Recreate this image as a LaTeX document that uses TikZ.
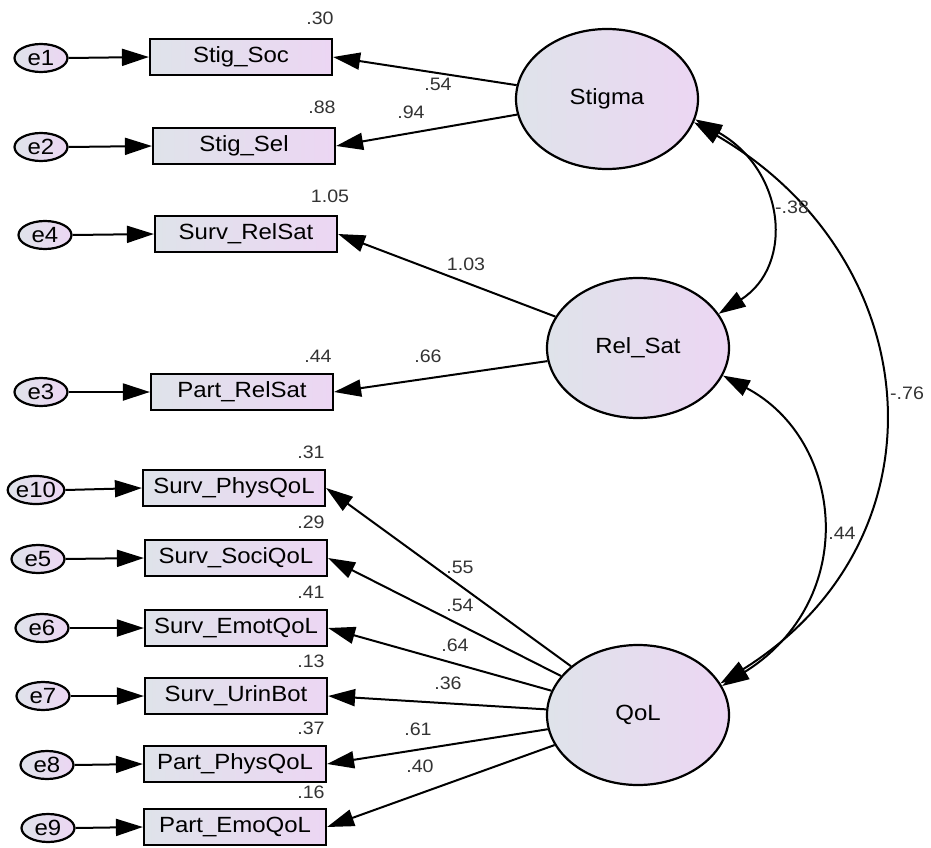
\documentclass[tikz,border=0pt]{standalone}
\usepackage{fontspec}
\setmainfont{Liberation Sans}[FakeStretch=1.09]
\usetikzlibrary{arrows.meta,shapes.geometric}
\definecolor{shadeL}{HTML}{DFE3EA}
\definecolor{shadeR}{HTML}{ECD6F3}
\definecolor{numgray}{HTML}{333333}
\newcommand{\fsz}[1]{\fontsize{#1}{#1}\selectfont}
\begin{document}
\begin{tikzpicture}[x=1pt,y=-1pt,
  obs/.style={draw, line width=2.2pt, minimum width=182pt, minimum height=36pt,
    inner sep=0pt, left color=shadeL, right color=shadeR, font=\fsz{22}},
  lat/.style={ellipse, draw, line width=2.2pt, minimum width=182pt, minimum height=140pt,
    inner sep=0pt, left color=shadeL, right color=shadeR, font=\fsz{22}},
  err/.style={ellipse, draw, line width=2.2pt, minimum width=53pt, minimum height=28pt,
    inner sep=0pt, left color=shadeL, right color=shadeR, font=\fsz{22}},
  num/.style={font=\fsz{18}, text=numgray, inner sep=0pt},
  path/.style={line width=2pt, -{Triangle[length=27pt,width=17pt]}},
  cov/.style={line width=2pt, {Triangle[length=27pt,width=17pt]}-{Triangle[length=27pt,width=17pt]}}
]
\useasboundingbox (0,0) rectangle (931,848);

% latent factors
\node[lat] (Stigma) at (607,99) {Stigma};
\node[lat] (RelSat) at (638,348) {Rel\_Sat};
\node[lat] (QoL) at (638,715) {QoL};

% indicators
\node[obs] (StigSoc) at (241,57) {Stig\_Soc};
\node[obs] (StigSel) at (244,146) {Stig\_Sel};
\node[obs] (SurvRelSat) at (246,234) {Surv\_RelSat};
\node[obs] (PartRelSat) at (242,392) {Part\_RelSat};
\node[obs] (SurvPhys) at (234,488) {Surv\_PhysQoL};
\node[obs] (SurvSoci) at (236,558) {Surv\_SociQoL};
\node[obs] (SurvEmot) at (236,628) {Surv\_EmotQoL};
\node[obs] (SurvUrin) at (236,696) {Surv\_UrinBot};
\node[obs] (PartPhys) at (235,764) {Part\_PhysQoL};
\node[obs] (PartEmo) at (235,827) {Part\_EmoQoL};

% error terms
\node[err] (e1) at (41,58) {e1};
\node[err] (e2) at (41,147) {e2};
\node[err] (e4) at (45,235) {e4};
\node[err] (e3) at (41,392) {e3};
\node[err] (e10) at (36,490) {e10};
\node[err] (e5) at (38,559) {e5};
\node[err] (e6) at (42,628) {e6};
\node[err] (e7) at (43,696) {e7};
\node[err] (e8) at (47,765) {e8};
\node[err] (e9) at (48,828) {e9};

% error paths
\foreach \e/\b in {e1/StigSoc, e2/StigSel, e4/SurvRelSat, e3/PartRelSat,
  e10/SurvPhys, e5/SurvSoci, e6/SurvEmot, e7/SurvUrin, e8/PartPhys, e9/PartEmo}
  \draw[path] (\e.east) -- (\b.west);

% loadings
\draw[path] (Stigma) -- (StigSoc.east);
\draw[path] (Stigma) -- (StigSel.east);
\draw[path] (RelSat) -- (SurvRelSat.east);
\draw[path] (RelSat) -- (PartRelSat.east);
\foreach \b in {SurvPhys, SurvSoci, SurvEmot, SurvUrin, PartPhys, PartEmo}
  \draw[path] (QoL) -- (\b.east);

% covariances
\draw[cov] (Stigma.-13) .. controls (785,170) and (795,265) .. (RelSat.23);
\draw[cov] (RelSat.-18) .. controls (845,440) and (860,600) .. (QoL.19);
\draw[cov] (Stigma.-15) .. controls (930,260) and (950,540) .. (QoL.21);

% squared multiple correlations
\node[num] (r1) at (320,18) {.30};
\node[num] (r2) at (322,107) {.88};
\node[num] (r4) at (330,196) {1.05};
\node[num] (r3) at (318,356) {.44};
\node[num] (r10) at (311,452) {.31};
\node[num] (r5) at (311,522) {.29};
\node[num] (r6) at (311,592) {.41};
\node[num] (r7) at (311,661) {.13};
\node[num] (r8) at (311,728) {.37};
\node[num] (r9) at (311,792) {.16};

% loading estimates
\node[num] (l1) at (438,84) {.54};
\node[num] (l2) at (411,112) {.94};
\node[num] (l3) at (466,264) {1.03};
\node[num] (l4) at (428,356) {.66};
\node[num] (l5) at (460,567) {.55};
\node[num] (l6) at (460,605) {.54};
\node[num] (l7) at (455,645) {.64};
\node[num] (l8) at (448,683) {.36};
\node[num] (l9) at (418,729) {.61};
\node[num] (l10) at (420,766) {.40};

% correlation estimates
\node[num] (c1) at (792,207) {-.38};
\node[num] (c2) at (907,393) {-.76};
\node[num] (c3) at (842,533) {.44};
\end{tikzpicture}
\end{document}
